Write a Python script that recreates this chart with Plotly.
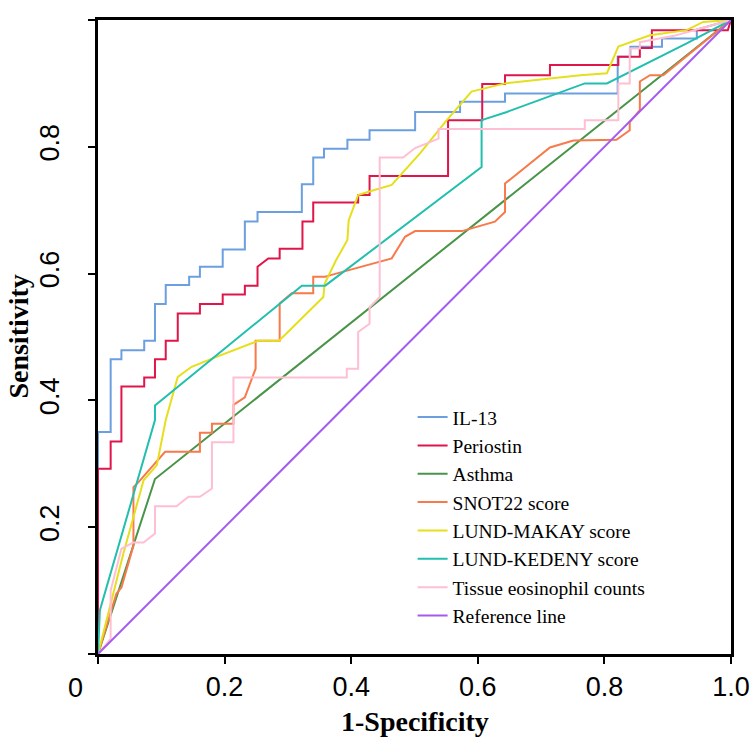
import plotly.graph_objects as go

# ---- data ----
il13_x = [0, 0, 0.020, 0.020, 0.037, 0.037, 0.073, 0.073, 0.090, 0.090, 0.107, 0.107, 0.144, 0.144,
          0.161, 0.161, 0.197, 0.197, 0.232, 0.232, 0.252, 0.252, 0.322, 0.322, 0.340, 0.340, 0.357,
          0.357, 0.394, 0.394, 0.429, 0.429, 0.501, 0.501, 0.572, 0.572, 0.643, 0.643, 0.821, 0.821,
          0.841, 0.841, 0.891, 0.891, 0.946, 0.946, 1.0]
il13_y = [0, 0.350, 0.350, 0.465, 0.465, 0.479, 0.479, 0.494, 0.494, 0.552, 0.552, 0.582, 0.582, 0.595,
          0.595, 0.611, 0.611, 0.638, 0.638, 0.682, 0.682, 0.697, 0.697, 0.741, 0.741, 0.783, 0.783,
          0.797, 0.797, 0.811, 0.811, 0.826, 0.826, 0.855, 0.855, 0.871, 0.871, 0.884, 0.884, 0.942,
          0.942, 0.958, 0.958, 0.971, 0.971, 0.985, 1.0]

peri_x = [0, 0, 0.020, 0.020, 0.037, 0.037, 0.073, 0.073, 0.090, 0.090, 0.107, 0.107, 0.126, 0.126,
          0.161, 0.161, 0.197, 0.197, 0.232, 0.232, 0.252, 0.252, 0.269, 0.287, 0.287, 0.323, 0.323,
          0.340, 0.340, 0.411, 0.411, 0.429, 0.429, 0.553, 0.553, 0.607, 0.607, 0.643, 0.643, 0.714,
          0.714, 0.822, 0.822, 0.856, 0.856, 0.875, 0.875, 0.995, 1.0]
peri_y = [0, 0.292, 0.292, 0.335, 0.335, 0.422, 0.422, 0.436, 0.436, 0.465, 0.465, 0.494, 0.494, 0.537,
          0.537, 0.552, 0.552, 0.567, 0.567, 0.581, 0.581, 0.611, 0.624, 0.624, 0.639, 0.639, 0.682,
          0.682, 0.712, 0.712, 0.724, 0.724, 0.754, 0.754, 0.842, 0.842, 0.899, 0.899, 0.913, 0.913,
          0.929, 0.929, 0.942, 0.942, 0.956, 0.956, 0.984, 0.984, 1.0]

asthma_x = [0, 0.090, 1.0]
asthma_y = [0, 0.276, 1.0]

snot_x = [0, 0.029, 0.037, 0.056, 0.056, 0.064, 0.106, 0.161, 0.161, 0.180, 0.180, 0.214, 0.214, 0.232,
          0.249, 0.249, 0.287, 0.287, 0.306, 0.340, 0.340, 0.359, 0.369, 0.464, 0.485, 0.501, 0.575,
          0.627, 0.643, 0.643, 0.714, 0.751, 0.819, 0.840, 0.840, 0.856, 0.856, 0.872, 0.893, 1.0]
snot_y = [0, 0.095, 0.105, 0.171, 0.263, 0.271, 0.319, 0.319, 0.349, 0.349, 0.363, 0.363, 0.393, 0.405,
          0.450, 0.494, 0.494, 0.553, 0.569, 0.569, 0.595, 0.595, 0.598, 0.624, 0.658, 0.667, 0.667,
          0.682, 0.697, 0.742, 0.799, 0.810, 0.811, 0.826, 0.839, 0.858, 0.903, 0.913, 0.913, 1.0]

makay_x = [0, 0.040, 0.072, 0.093, 0.107, 0.126, 0.148, 0.180, 0.253, 0.286, 0.356, 0.358, 0.376, 0.394,
           0.396, 0.411, 0.430, 0.464, 0.509, 0.551, 0.590, 0.609, 0.643, 0.762, 0.804, 0.822, 0.872,
           0.930, 0.956, 1.0]
makay_y = [0, 0.158, 0.274, 0.298, 0.369, 0.437, 0.453, 0.466, 0.494, 0.494, 0.563, 0.584, 0.621, 0.653,
           0.684, 0.724, 0.730, 0.740, 0.790, 0.842, 0.887, 0.892, 0.900, 0.913, 0.916, 0.958, 0.976,
           0.984, 0.997, 1.0]

kedeny_x = [0, 0.003, 0.090, 0.090, 0.322, 0.359, 0.606, 0.606, 0.646, 0.769, 0.804, 0.930, 1.0]
kedeny_y = [0, 0.069, 0.369, 0.392, 0.581, 0.581, 0.768, 0.842, 0.855, 0.900, 0.900, 0.963, 1.0]

tissue_x = [0, 0.020, 0.020, 0.037, 0.056, 0.072, 0.090, 0.090, 0.124, 0.143, 0.161, 0.180, 0.180, 0.214,
            0.214, 0.393, 0.393, 0.411, 0.411, 0.429, 0.429, 0.445, 0.445, 0.482, 0.501, 0.538, 0.538,
            0.769, 0.769, 0.822, 0.822, 0.840, 0.840, 0.856, 0.856, 0.910, 0.946, 1.0]
tissue_y = [0, 0.024, 0.100, 0.166, 0.176, 0.176, 0.190, 0.233, 0.233, 0.248, 0.248, 0.261, 0.334, 0.334,
            0.436, 0.436, 0.450, 0.450, 0.508, 0.521, 0.547, 0.563, 0.783, 0.783, 0.798, 0.813, 0.828,
            0.828, 0.842, 0.842, 0.900, 0.900, 0.955, 0.955, 0.965, 0.975, 0.985, 1.0]

ref_x = [0, 1.0]
ref_y = [0, 1.0]

series = [
    ("IL-13", il13_x, il13_y, "#6c9fdf"),
    ("Periostin", peri_x, peri_y, "#e0164a"),
    ("Asthma", asthma_x, asthma_y, "#4a944a"),
    ("SNOT22 score", snot_x, snot_y, "#f87a4a"),
    ("LUND-MAKAY score", makay_x, makay_y, "#e6df1c"),
    ("LUND-KEDENY score", kedeny_x, kedeny_y, "#22bfae"),
    ("Tissue eosinophil counts", tissue_x, tissue_y, "#ffbfd2"),
    ("Reference line", ref_x, ref_y, "#a45cf0"),
]

tick_vals = [0, 0.2, 0.4, 0.6, 0.8, 1.0]
tick_text = ["", "0.2", "0.4", "0.6", "0.8", "1.0"]

fig = go.Figure()
for name, xs, ys, col in series:
    fig.add_trace(go.Scatter(x=xs, y=ys, mode="lines", name=name,
                             line=dict(color=col, width=2)))

axis_common = dict(range=[0, 1], showgrid=False, zeroline=False, showline=True, mirror=True,
                   linecolor="black", linewidth=3, ticks="outside", ticklen=7, tickwidth=1.5,
                   tickcolor="black", tickvals=tick_vals, ticktext=tick_text,
                   tickfont=dict(family="Liberation Sans, Arial", size=27, color="black"))

fig.update_layout(
    width=750, height=744,
    margin=dict(l=98, r=19, t=20, b=90, autoexpand=False),
    paper_bgcolor="white", plot_bgcolor="white",
    xaxis=dict(**axis_common),
    yaxis=dict(**axis_common, tickangle=-90, ticklabelstandoff=18),
    showlegend=True,
    legend=dict(x=0.497, y=0.404, xanchor="left", yanchor="top",
                bgcolor="rgba(0,0,0,0)", borderwidth=0,
                font=dict(family="Liberation Serif, Times New Roman", size=19.5, color="black"),
                tracegroupgap=0),
    annotations=[
        dict(text="<b>1-Specificity</b>", x=0.5, y=-0.1066, xref="paper", yref="paper",
             showarrow=False, xanchor="center", yanchor="middle",
             font=dict(family="Liberation Serif, Times New Roman", size=28, color="black")),
        dict(text="<b>Sensitivity</b>", x=-0.127, y=0.5, xref="paper", yref="paper",
             showarrow=False, xanchor="center", yanchor="middle", textangle=-90,
             font=dict(family="Liberation Serif, Times New Roman", size=28, color="black")),
        dict(text="0", x=-0.0363, y=-0.0529, xref="paper", yref="paper",
             showarrow=False, xanchor="center", yanchor="middle",
             font=dict(family="Liberation Sans, Arial", size=27, color="black")),
    ],
)

fig.write_html("out.html", config={"displayModeBar": False},
               post_script="document.body.style.margin='0';document.body.style.overflow='hidden';")
